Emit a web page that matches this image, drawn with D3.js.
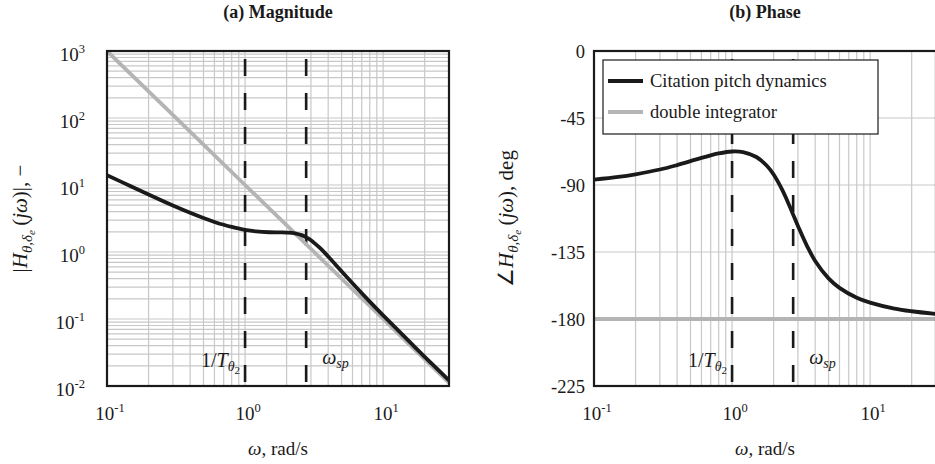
<!DOCTYPE html>
<html>
<head>
<meta charset="utf-8">
<script src="https://cdn.jsdelivr.net/npm/d3@7"></script>
<style>
  body { margin: 0; background: #fff; }
  svg text { font-family: "Liberation Serif", "Times New Roman", serif; fill: #1a1a1a; }
</style>
</head>
<body>
<script>
// Frequency points, rad/s
var omega = [0.1, 0.15, 0.2, 0.3, 0.4, 0.5, 0.6, 0.7, 0.8, 1, 1.2, 1.5, 1.8, 2, 2.3, 2.6, 2.77, 3, 3.5, 4, 5, 6, 8, 10, 15, 20, 30];
// Citation pitch dynamics
var citationMag = [14.0, 9.5, 7.2, 4.93, 3.84, 3.21, 2.81, 2.55, 2.37, 2.14, 2.03, 1.97, 1.96, 1.95, 1.90, 1.77, 1.66, 1.50, 1.14, 0.857, 0.516, 0.342, 0.182, 0.1135, 0.0491, 0.0273, 0.0121];
var citationPhase = [-86.4, -84.6, -82.8, -79.6, -76.6, -74.0, -71.8, -70.1, -68.8, -67.5, -67.9, -71.2, -77.4, -83.0, -93.0, -103.8, -109.9, -117.5, -131.2, -141.0, -152.7, -159.1, -165.7, -169.0, -173.0, -174.8, -176.6];
// double integrator
var integratorOmega = [0.1, 1, 10, 30];
var integratorMag = [1000, 10, 0.1, 0.0111];
var integratorPhase = [-180, -180, -180, -180];

// tick labels
var xTickExp = [-1, 0, 1];
var magTickExp = [-2, -1, 0, 1, 2, 3];
var phaseTicks = [0, -45, -90, -135, -180, -225];

// vertical markers
var markerFreqs = [1, 2.77];

var legendNames = ["Citation pitch dynamics", "double integrator"];
var black = "#1a1a1a", grey = "#b4b4b4", gridColor = "#c8c8c8";

var svgWidth = 935, svgHeight = 464;
var plotTop = 51, plotBottom = 386;

var svg = d3.select("body").append("svg")
  .attr("width", svgWidth)
  .attr("height", svgHeight);

var xMag = d3.scaleLog().domain([0.1, 30]).range([107, 449]);
var xPh = d3.scaleLog().domain([0.1, 30]).range([594, 936]);
var yMag = d3.scaleLog().domain([1e-2, 1e3]).range([plotBottom, plotTop]);
var yPh = d3.scaleLinear().domain([-225, 0]).range([plotBottom, plotTop]);

var magData = omega.map((w, i) => ({w: w, v: citationMag[i]}));
var phData = omega.map((w, i) => ({w: w, v: citationPhase[i]}));
var intMagData = integratorOmega.map((w, i) => ({w: w, v: integratorMag[i]}));
var intPhData = integratorOmega.map((w, i) => ({w: w, v: integratorPhase[i]}));

function addPower(sel, exp) {
  sel.append("tspan").text("10");
  sel.append("tspan").attr("dy", -8).attr("font-size", 12.5).text(exp);
}

function drawPanel(x, y, yGridVals, opts) {
  var g = svg.append("g");
  var x0 = x.range()[0], x1 = x.range()[1];

  // grid
  g.append("g").selectAll("line").data(x.ticks())
    .enter().append("line")
    .attr("x1", d => x(d)).attr("x2", d => x(d))
    .attr("y1", plotTop).attr("y2", plotBottom)
    .attr("stroke", gridColor).attr("stroke-width", 1.2);
  g.append("g").selectAll("line").data(yGridVals)
    .enter().append("line")
    .attr("x1", x0).attr("x2", x1)
    .attr("y1", d => y(d)).attr("y2", d => y(d))
    .attr("stroke", gridColor).attr("stroke-width", 1.2);

  // dashed markers
  g.append("g").selectAll("line").data(markerFreqs)
    .enter().append("line")
    .attr("x1", d => x(d)).attr("x2", d => x(d))
    .attr("y1", plotTop).attr("y2", plotBottom)
    .attr("stroke", black).attr("stroke-width", 2.6)
    .attr("stroke-dasharray", "17,17").attr("stroke-dashoffset", 26);

  // marker labels
  var t1 = g.append("text").attr("x", x(markerFreqs[0]) - 5).attr("y", 367)
    .attr("text-anchor", "end").attr("font-size", 20);
  t1.append("tspan").text("1/");
  t1.append("tspan").attr("font-style", "italic").text("T");
  t1.append("tspan").attr("font-style", "italic").attr("font-size", 14).attr("dy", 4).text("θ");
  t1.append("tspan").attr("font-size", 11).attr("dy", 3).text("2");

  var t2 = g.append("text").attr("x", x(markerFreqs[1]) + 16).attr("y", 364)
    .attr("font-size", 20);
  t2.append("tspan").attr("font-style", "italic").text("ω");
  t2.append("tspan").attr("font-style", "italic").attr("font-size", 14).attr("dy", 4).text("sp");

  var line = d3.line()
    .x(d => x(d.w))
    .y(d => y(d.v))
    .curve(d3.curveCatmullRom.alpha(0.5));

  var clipId = "clip" + opts.id;
  svg.append("clipPath").attr("id", clipId).append("rect")
    .attr("x", x0).attr("y", plotTop).attr("width", x1 - x0).attr("height", plotBottom - plotTop);

  g.append("path").datum(opts.greyData)
    .attr("d", line).attr("fill", "none")
    .attr("stroke", grey).attr("stroke-width", 3.8)
    .attr("clip-path", "url(#" + clipId + ")");
  g.append("path").datum(opts.blackData)
    .attr("d", line).attr("fill", "none")
    .attr("stroke", black).attr("stroke-width", 3.8)
    .attr("clip-path", "url(#" + clipId + ")");

  // frame
  g.append("rect")
    .attr("x", x0).attr("y", plotTop)
    .attr("width", x1 - x0).attr("height", plotBottom - plotTop)
    .attr("fill", "none").attr("stroke", black).attr("stroke-width", 2.2);

  // x tick labels
  g.append("g").selectAll("text").data(xTickExp)
    .enter().append("text")
    .attr("x", d => x(Math.pow(10, d)) + 3)
    .attr("y", 420)
    .attr("text-anchor", "middle")
    .attr("font-size", 19)
    .each(function(d) { addPower(d3.select(this), d); });

  // x label
  var xl = g.append("text").attr("x", (x0 + x1) / 2).attr("y", 455)
    .attr("text-anchor", "middle").attr("font-size", 19);
  xl.append("tspan").attr("font-style", "italic").text("ω");
  xl.append("tspan").text(", rad/s");

  // title
  g.append("text").attr("x", (x0 + x1) / 2).attr("y", 18)
    .attr("text-anchor", "middle").attr("font-size", 18)
    .attr("font-weight", "bold").text(opts.title);

  return g;
}

// (a) Magnitude
var gMag = drawPanel(xMag, yMag, yMag.ticks(), {
  id: "mag", title: "(a) Magnitude", blackData: magData, greyData: intMagData
});
gMag.append("g").selectAll("text").data(magTickExp)
  .enter().append("text")
  .attr("x", 85)
  .attr("y", d => yMag(Math.pow(10, d)) + 10)
  .attr("text-anchor", "end")
  .attr("font-size", 19)
  .each(function(d) { addPower(d3.select(this), d); });

var yl1 = gMag.append("text")
  .attr("transform", "translate(27," + (plotTop + plotBottom) / 2 + ") rotate(-90)")
  .attr("text-anchor", "middle").attr("font-size", 21);
yl1.append("tspan").text("|");
yl1.append("tspan").attr("font-style", "italic").text("H");
yl1.append("tspan").attr("font-style", "italic").attr("font-size", 15).attr("dy", 5).text("θ,δ");
yl1.append("tspan").attr("font-style", "italic").attr("font-size", 11).attr("dy", 3).text("e");
yl1.append("tspan").attr("dy", -8).text("\u2009(");
yl1.append("tspan").attr("font-style", "italic").text("jω");
yl1.append("tspan").text(")|, \u2212");

// (b) Phase
var gPh = drawPanel(xPh, yPh, phaseTicks, {
  id: "ph", title: "(b) Phase", blackData: phData, greyData: intPhData
});
gPh.append("g").selectAll("text").data(phaseTicks)
  .enter().append("text")
  .attr("x", 585)
  .attr("y", d => yPh(d) + 7)
  .attr("text-anchor", "end")
  .attr("font-size", 18.5)
  .text(d => d);

var yl2 = gPh.append("text")
  .attr("transform", "translate(513," + (plotTop + plotBottom) / 2 + ") rotate(-90)")
  .attr("text-anchor", "middle").attr("font-size", 21);
yl2.append("tspan").text("∠");
yl2.append("tspan").attr("font-style", "italic").text("H");
yl2.append("tspan").attr("font-style", "italic").attr("font-size", 15).attr("dy", 5).text("θ,δ");
yl2.append("tspan").attr("font-style", "italic").attr("font-size", 11).attr("dy", 3).text("e");
yl2.append("tspan").attr("dy", -8).text("\u2009(");
yl2.append("tspan").attr("font-style", "italic").text("jω");
yl2.append("tspan").text("), deg");

// legend
var legend = svg.append("g").attr("transform", "translate(603,60)");
legend.append("rect")
  .attr("width", 275).attr("height", 74)
  .attr("fill", "#fff").attr("stroke", black).attr("stroke-width", 1.2);
var entries = legend.selectAll(".entry").data(legendNames)
  .enter().append("g")
  .attr("transform", (d, i) => "translate(0," + (21 + i * 31) + ")");
entries.append("line")
  .attr("x1", 5).attr("x2", 40)
  .attr("stroke", (d, i) => i === 0 ? black : grey)
  .attr("stroke-width", 3.8);
entries.append("text")
  .attr("x", 47).attr("y", 6)
  .attr("font-size", 18.5)
  .text(d => d);
</script>
</body>
</html>
